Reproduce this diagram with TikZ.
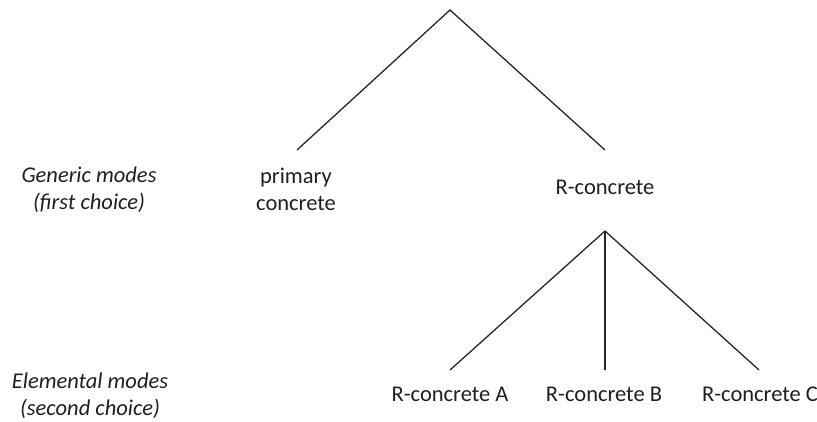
\documentclass[tikz,border=0pt]{standalone}
\usepackage{fontspec}
\setmainfont{Carlito}
\begin{document}
\begin{tikzpicture}[x=1pt,y=-1pt,
  lbl/.style={inner sep=0pt,align=center,font=\fontsize{22.5pt}{27pt}\selectfont,text=black!88},
  side/.style={lbl,font=\fontsize{22.5pt}{27pt}\selectfont\itshape},
  branch/.style={draw=black!85,line width=1.3pt}]
\useasboundingbox (0,0) rectangle (817,422);
\coordinate (top) at (450,10);
\coordinate (pe) at (297,150);
\coordinate (re) at (605,150);
\coordinate (rtop) at (605,231);
\coordinate (ae) at (450,370);
\coordinate (be) at (605,370);
\coordinate (ce) at (759,370);
\node[lbl,anchor=base] (primary) at (296,211) {primary\\concrete};
\node[lbl,anchor=base] (rc) at (605,195) {R-concrete};
\node[lbl,anchor=base] (ra) at (450,401) {R-concrete A};
\node[lbl,anchor=base] (rb) at (604,401) {R-concrete B};
\node[lbl,anchor=base] (rcc) at (760,401) {R-concrete C};
\node[side,anchor=base] (generic) at (89,210) {Generic modes\\(first choice)};
\node[side,anchor=base] (elemental) at (90,415) {Elemental modes\\(second choice)};
\draw[branch] (pe) -- (top) -- (re);
\draw[branch] (rtop) -- (ae);
\draw[branch] (rtop) -- (be);
\draw[branch] (rtop) -- (ce);
\end{tikzpicture}
\end{document}
